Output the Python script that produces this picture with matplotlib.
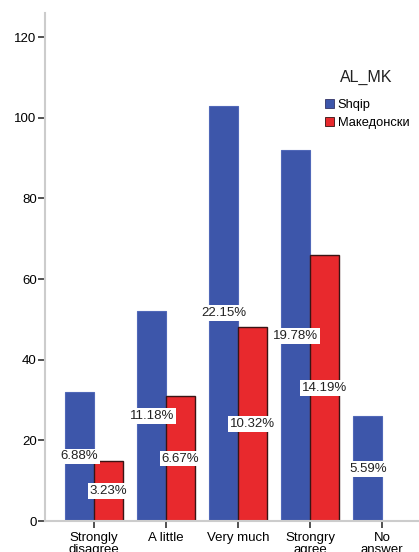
import numpy as np
import matplotlib
matplotlib.use('Agg')
import matplotlib.pyplot as plt
from matplotlib.patches import Patch

plt.rcParams['font.family'] = ['Liberation Sans', 'DejaVu Sans']

categories = ['Strongly\ndisagree', 'A little', 'Very much', 'Strongry\nagree', 'No\nanswer']
shqip = [32, 52, 103, 92, 26]
makedonski = [15, 31, 48, 66, 0]
total = 465  # all respondents, percentages are of this

blue = '#3D56AA'
red = '#E8292D'

fig = plt.figure(figsize=(4.19, 5.52), dpi=100)
ax = fig.add_axes([45/419, 1 - 521/552, 374/419, 508/552])

x = np.arange(len(categories))
w = 0.4
ax.bar(x - w/2, shqip, w, color=blue, edgecolor='#5068b8', linewidth=0.8, zorder=2)
ax.bar(x + w/2, makedonski, w, color=red, edgecolor='#3a1414', linewidth=1.0, zorder=2)

# percentage labels in the middle of each bar
for xi, v in zip(x - w/2, shqip):
    if v > 0:
        ax.text(xi, v / 2, '%.2f%%' % (100.0 * v / total), ha='center', va='center',
                fontsize=9.5, color='#222222', zorder=3,
                bbox=dict(facecolor='white', edgecolor='none', pad=1.4))
for xi, v in zip(x + w/2, makedonski):
    if v > 0:
        ax.text(xi, v / 2, '%.2f%%' % (100.0 * v / total), ha='center', va='center',
                fontsize=9.5, color='#222222', zorder=3,
                bbox=dict(facecolor='white', edgecolor='none', pad=1.4))

ax.set_xlim(-0.68, 4.51)
ax.set_ylim(0, 126)
ax.set_yticks([0, 20, 40, 60, 80, 100, 120])
ax.set_xticks(x)
ax.set_xticklabels(categories, fontsize=9.5, linespacing=0.95)
ax.tick_params(axis='y', labelsize=9.5, length=5, width=1.2, color='#333333', pad=1)
ax.tick_params(axis='x', length=5, width=1.2, color='#333333', pad=3)

for s in ['top', 'right']:
    ax.spines[s].set_visible(False)
ax.spines['left'].set_color('#cccccc')
ax.spines['left'].set_linewidth(1.5)
ax.spines['bottom'].set_color('#cccccc')
ax.spines['bottom'].set_linewidth(1.5)

# legend title drawn separately so it sits higher above the entries
fig.text(366/419, 1 - 77/552, 'AL_MK', ha='center', va='center', fontsize=11.5,
         color='#222222')
handles = [Patch(facecolor=blue, edgecolor='#333366', linewidth=0.6, label='Shqip'),
           Patch(facecolor=red, edgecolor='#331111', linewidth=0.6, label='Македонски')]
fig.legend(handles=handles, loc='upper left',
           bbox_to_anchor=(317/419, 1 - 91/552), frameon=False,
           fontsize=9.3, handlelength=0.7, handleheight=0.7,
           handletextpad=0.3, labelspacing=0.45, borderpad=0.1)

fig.savefig('out.png', dpi=100)
